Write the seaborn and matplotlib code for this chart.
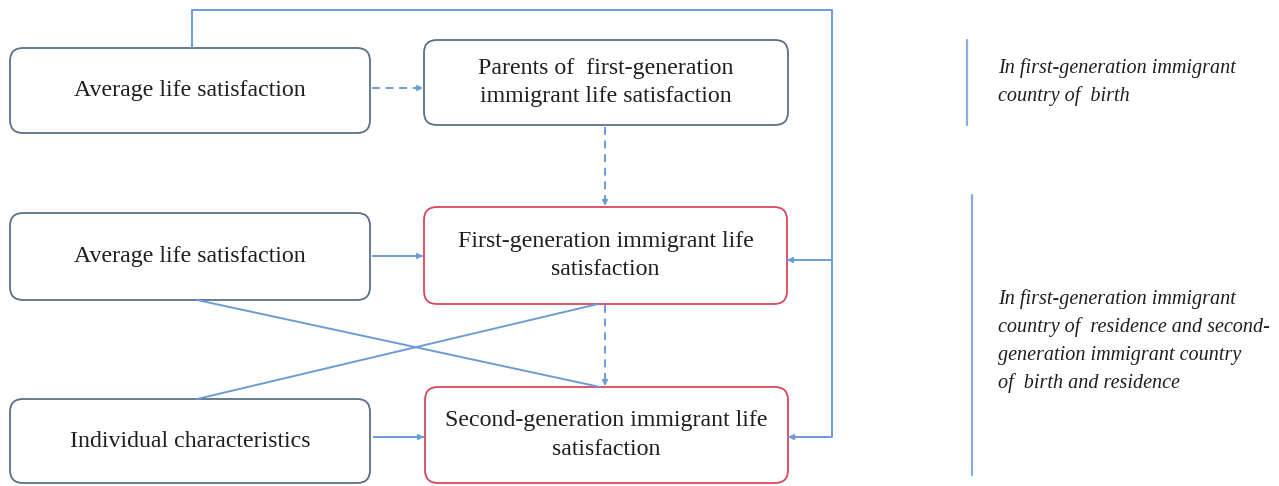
import matplotlib
matplotlib.use("Agg")
import matplotlib.pyplot as plt
import seaborn as sns
from matplotlib.patches import FancyBboxPatch

# node labels of the diagram
box_labels = [
    "Average life satisfaction",
    "Parents of  first-generation\nimmigrant life satisfaction",
    "Average life satisfaction",
    "First-generation immigrant life\nsatisfaction",
    "Individual characteristics",
    "Second-generation immigrant life\nsatisfaction",
]
box_highlight = [False, False, False, True, False, True]

side_labels = [
    "In first-generation immigrant\ncountry of  birth",
    "In first-generation immigrant\ncountry of  residence and second-\ngeneration immigrant country\nof  birth and residence",
]

# layout (pixel frame): x0, x1, y0, y1
box_x0 = [10, 424, 10, 424, 10, 425]
box_x1 = [370, 788, 370, 787, 370, 788]
box_y0 = [48, 40, 213, 207, 399, 387]
box_y1 = [133, 125, 300, 304, 483, 483]

side_bar_x = [967, 972]
side_bar_y0 = [40, 195]
side_bar_y1 = [125, 475]
side_text_y = [82, 341]

edge_col = "#5a6f88"
red_col = "#d9465c"
line_col = "#6c9bd6"
text_col = "#1e1e1e"

sns.set_theme(style="white")
plt.rcParams["font.family"] = ["Liberation Serif", "DejaVu Serif"]

fig = plt.figure(figsize=(12.79, 4.86), dpi=100)
ax = fig.add_axes([0, 0, 1, 1])
ax.set_xlim(0, 1279)
ax.set_ylim(486, 0)
ax.axis("off")

for lab, hl, x0, x1, y0, y1 in zip(box_labels, box_highlight, box_x0, box_x1, box_y0, box_y1):
    ax.add_patch(FancyBboxPatch((x0, y0), x1 - x0, y1 - y0,
                                boxstyle="round,pad=0,rounding_size=13",
                                fc="white", ec=red_col if hl else edge_col, lw=1.3))
    ax.text((x0 + x1) / 2, (y0 + y1) / 2, lab, ha="center", va="center",
            fontsize=17.2, color=text_col, linespacing=1.45)


def arrow(pts, dashed=False):
    xs = [p[0] for p in pts]
    ys = [p[1] for p in pts]
    ls = (0, (4, 3)) if dashed else "-"
    ax.plot(xs, ys, color=line_col, lw=1.4, ls=ls, solid_capstyle="butt")
    (xa, ya), (xb, yb) = pts[-2], pts[-1]
    dx, dy = xb - xa, yb - ya
    n = (dx ** 2 + dy ** 2) ** 0.5
    ax.annotate("", xy=(xb, yb), xytext=(xb - 6 * dx / n, yb - 6 * dy / n),
                arrowprops=dict(arrowstyle="-|>", mutation_scale=8, lw=1.2,
                                color=line_col, shrinkA=0, shrinkB=0))


# feedback loop from top box to both red boxes
ax.plot([192, 192, 832, 832], [48, 10, 10, 437], color=line_col, lw=1.4)
arrow([(832, 437), (788, 437)])
arrow([(832, 260), (787, 260)])

arrow([(372, 88), (423, 88)], dashed=True)
arrow([(605, 127), (605, 206)], dashed=True)
arrow([(605, 305), (605, 386)], dashed=True)
arrow([(372, 256), (423, 256)])
arrow([(373, 437), (424, 437)])
ax.plot([197, 600], [300, 387], color=line_col, lw=1.4)
ax.plot([197, 598], [399, 304], color=line_col, lw=1.4)

for bx, by0, by1, lab, ty in zip(side_bar_x, side_bar_y0, side_bar_y1, side_labels, side_text_y):
    ax.plot([bx, bx], [by0, by1], color="#8aaedc", lw=1.6)
    ax.text(998, ty, lab, ha="left", va="center", fontsize=14.5, style="italic",
            color=text_col, linespacing=1.58)

fig.savefig("out.png", dpi=100)
